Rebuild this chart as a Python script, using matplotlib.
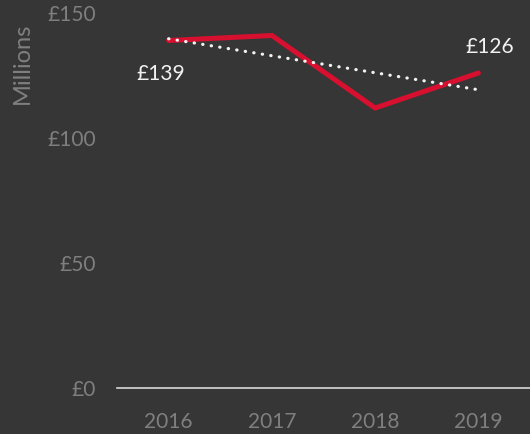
import matplotlib.pyplot as plt
import numpy as np

years = ["2016", "2017", "2018", "2019"]
values = [139, 141, 112, 126]
yticks = [0, 50, 100, 150]
ytick_labels = ["£0", "£50", "£100", "£150"]

bg = "#363636"
grey = "#7f7f7f"

plt.rcParams['font.family'] = ['Lato', 'DejaVu Sans']

fig = plt.figure(figsize=(5.3, 4.34), dpi=100)
fig.patch.set_facecolor(bg)
ax = fig.add_axes([117/530, (434-388)/434, 413/530, 375/434])
ax.set_facecolor(bg)

x = np.arange(len(years))
ax.plot(x, values, color="#d7102f", linewidth=3.6, solid_capstyle="round", solid_joinstyle="miter", zorder=2)

# linear trendline
k, b = np.polyfit(x, values, 1)
ax.plot(x, k*x + b, color="#f2f2f2", linewidth=2.3, linestyle=(0, (0.1, 2.6)),
        dash_capstyle="round", zorder=3)

ax.annotate("£" + str(values[0]), (x[0], values[0]), xytext=(-6, -24), textcoords="offset points",
            ha="center", va="center", color="#f2f2f2", fontsize=15)
ax.annotate("£" + str(values[-1]), (x[-1], values[-1]), xytext=(8, 19), textcoords="offset points",
            ha="center", va="center", color="#f2f2f2", fontsize=15)

ax.set_xlim(-0.5, 3.5)
ax.set_ylim(0, 150)
ax.set_xticks(x)
ax.set_xticklabels(years)
ax.set_yticks(yticks)
ax.set_yticklabels(ytick_labels)
ax.tick_params(axis="both", length=0, colors=grey, labelsize=15)
ax.tick_params(axis="y", pad=15)
ax.tick_params(axis="x", pad=17)

for s in ["left", "right", "top"]:
    ax.spines[s].set_visible(False)
ax.spines["bottom"].set_color("#d9d9d9")
ax.spines["bottom"].set_linewidth(1.2)

fig.text(22/530, 1 - 63/434, "Millions", rotation=90, ha="center", va="center",
         color=grey, fontsize=17)

plt.savefig("out.png", dpi=100, facecolor=bg)
